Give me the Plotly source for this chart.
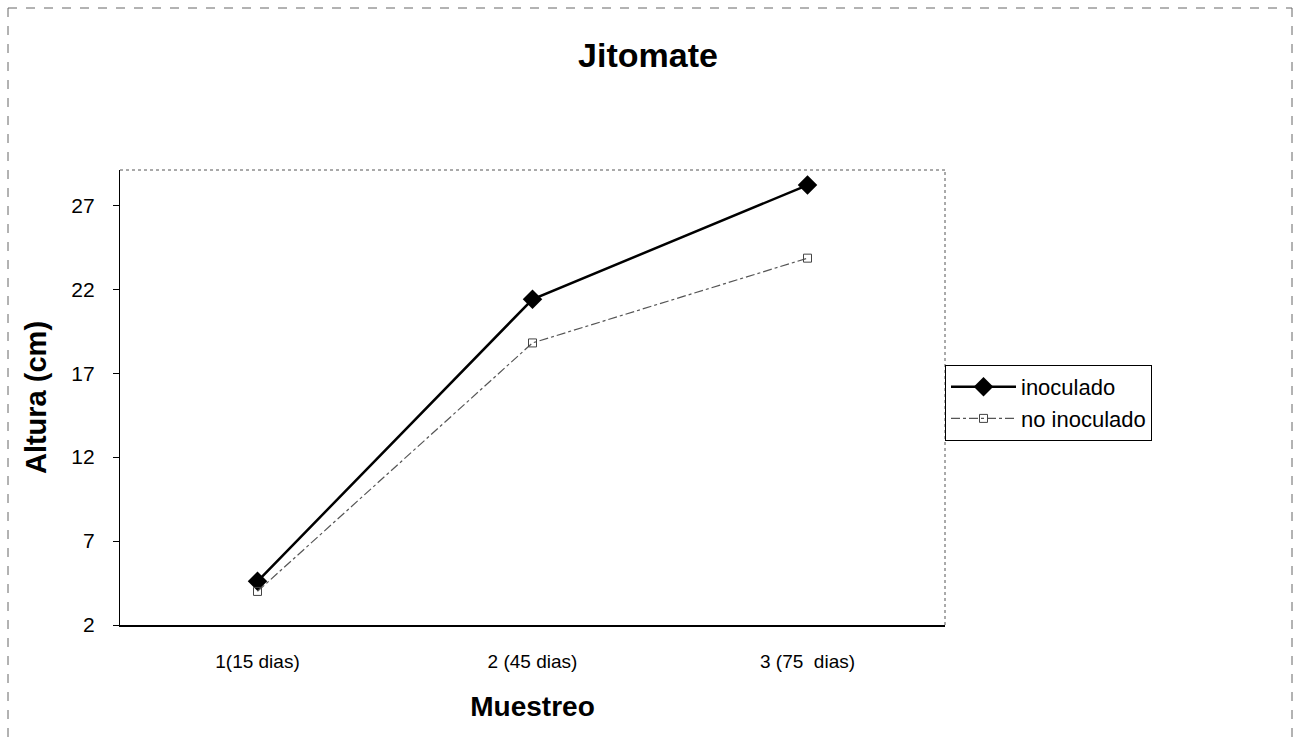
import plotly.graph_objects as go

categorias = ["1(15 dias)", "2 (45 dias)", "3 (75  dias)"]
inoculado = [4.6, 21.4, 28.2]
no_inoculado = [4.0, 18.8, 23.85]
y_ticks = [2, 7, 12, 17, 22, 27]

fig = go.Figure()
fig.add_trace(go.Scatter(
    x=categorias, y=inoculado, name="inoculado", mode="lines+markers",
    line=dict(color="black", width=2.5),
    marker=dict(symbol="diamond", size=15, color="black"),
))
fig.add_trace(go.Scatter(
    x=categorias, y=no_inoculado, name="no inoculado", mode="lines+markers",
    line=dict(color="#555555", width=1.2, dash="dashdot"),
    marker=dict(symbol="square-open", size=8, color="#444444", line=dict(width=1)),
))

W, H = 1296, 740
L, R, T, B = 120, 351, 170, 115
pw, ph = W - L - R, H - T - B

def px(x):
    return (x - L) / pw

def py(y):
    return (H - B - y) / ph

fig.update_layout(
    width=W, height=H,
    margin=dict(l=L, r=R, t=T, b=B),
    paper_bgcolor="white", plot_bgcolor="white",
    font=dict(family="Liberation Sans, Arial", color="black", size=19),
    title=dict(text="<b>Jitomate</b>", x=0.5, xanchor="center", y=0.925, yanchor="middle",
               font=dict(size=34)),
    showlegend=True,
    legend=dict(x=1.0, y=py(365), xanchor="left", yanchor="top",
                bordercolor="black", borderwidth=1, bgcolor="white",
                font=dict(size=22), tracegroupgap=0, itemwidth=65),
    xaxis=dict(
        type="category", range=[-0.5, 2.5], showgrid=False, zeroline=False,
        showline=True, linecolor="black", linewidth=1.5,
        ticks="", tickfont=dict(size=19), ticklabelstandoff=18,
        title=dict(text="<b>Muestreo</b>", font=dict(size=28), standoff=26),
    ),
    yaxis=dict(
        range=[2, 29.1], tickvals=y_ticks, showgrid=False, zeroline=False,
        showline=True, linecolor="black", linewidth=1.2,
        ticks="outside", ticklen=6, tickcolor="black", tickfont=dict(size=21),
        ticklabelstandoff=14,
        title=dict(text="<b>Altura (cm)</b>", font=dict(size=29), standoff=16),
    ),
    shapes=[
        dict(type="line", xref="paper", yref="paper", x0=0, x1=1, y0=1, y1=1,
             line=dict(color="#555555", width=1, dash="dot")),
        dict(type="line", xref="paper", yref="paper", x0=1, x1=1, y0=0, y1=1,
             line=dict(color="#555555", width=1, dash="dot")),
        dict(type="line", xref="paper", yref="paper", x0=px(8), x1=px(1292),
             y0=py(8), y1=py(8), line=dict(color="#666666", width=1, dash="dash")),
        dict(type="line", xref="paper", yref="paper", x0=px(8), x1=px(8),
             y0=py(8), y1=py(740), line=dict(color="#666666", width=1, dash="dash")),
        dict(type="line", xref="paper", yref="paper", x0=px(1292), x1=px(1292),
             y0=py(8), y1=py(740), line=dict(color="#666666", width=1, dash="dash")),
    ],
)

fig.write_html("out.html")
